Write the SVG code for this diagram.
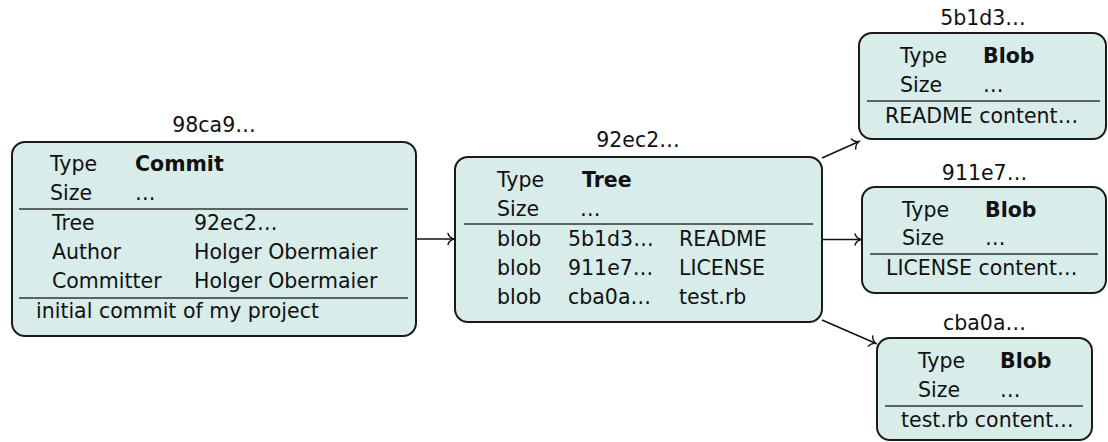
<svg xmlns="http://www.w3.org/2000/svg" width="1108" height="442" viewBox="0 0 1108 442">
<style>
.box{fill:#d8ecea;stroke:#1a1a1a;stroke-width:2}
.sep{stroke:#333;stroke-width:1.3}
text{font-family:"DejaVu Sans",sans-serif;font-size:20.5px;fill:#111}
.b{font-weight:bold}
.t{text-anchor:middle}
.conn{stroke:#111;stroke-width:1.5;fill:none;marker-end:url(#tip)}
</style>
<defs>
<marker id="tip" markerUnits="userSpaceOnUse" viewBox="-8 -7 10 14" refX="0" refY="0" markerWidth="10" markerHeight="14" orient="auto" overflow="visible">
<path d="M-6,-5.5 C-5,-2.5 -2.2,-0.6 0,0 C-2.2,0.6 -5,2.5 -6,5.5" fill="none" stroke="#111" stroke-width="1.4" stroke-linecap="round"/>
</marker>
</defs>
<g id="connectors">
<line class="conn" x1="416" y1="239" x2="454" y2="239"/>
<line class="conn" x1="822" y1="158" x2="859" y2="141.5"/>
<line class="conn" x1="822" y1="239.5" x2="861" y2="239.5"/>
<line class="conn" x1="822" y1="320" x2="876" y2="343.5"/>
</g>
<g id="commit">
<text class="t" x="214" y="132">98ca9…</text>
<rect class="box" x="12" y="142" width="404" height="194" rx="13"/>
<text x="50" y="171">Type</text><text class="b" x="135" y="171">Commit</text>
<text x="50" y="200">Size</text><text x="135" y="200">…</text>
<line class="sep" x1="19" y1="209" x2="408" y2="209"/>
<text x="52" y="230">Tree</text><text x="194" y="230">92ec2…</text>
<text x="52" y="259">Author</text><text x="194" y="259">Holger Obermaier</text>
<text x="52" y="288">Committer</text><text x="194" y="288">Holger Obermaier</text>
<line class="sep" x1="19" y1="298" x2="408" y2="298"/>
<text x="36" y="318">initial commit of my project</text>
</g>
<g id="tree">
<text class="t" x="638" y="147">92ec2…</text>
<rect class="box" x="455" y="157" width="367" height="165" rx="13"/>
<text x="497" y="187">Type</text><text class="b" x="582" y="187">Tree</text>
<text x="497" y="216">Size</text><text x="580" y="216">…</text>
<line class="sep" x1="464" y1="224" x2="813" y2="224"/>
<text x="497" y="246">blob</text><text x="568" y="246">5b1d3…</text><text x="679" y="246">README</text>
<text x="497" y="275">blob</text><text x="568" y="275">911e7…</text><text x="679" y="275">LICENSE</text>
<text x="497" y="304">blob</text><text x="568" y="304">cba0a…</text><text x="679" y="304">test.rb</text>
</g>
<g id="blob-5b1d3">
<text class="t" x="983" y="25">5b1d3…</text>
<rect class="box" x="859" y="33" width="247" height="106" rx="13"/>
<text x="900" y="63">Type</text><text class="b" x="983" y="63">Blob</text>
<text x="900" y="92">Size</text><text x="983" y="92">…</text>
<line class="sep" x1="867" y1="101" x2="1100" y2="101"/>
<text x="885" y="123">README content…</text>
</g>
<g id="blob-911e7">
<text class="t" x="984.5" y="180">911e7…</text>
<rect class="box" x="862" y="187" width="244" height="106" rx="13"/>
<text x="902" y="217">Type</text><text class="b" x="985" y="217">Blob</text>
<text x="902" y="245">Size</text><text x="985" y="245">…</text>
<line class="sep" x1="870" y1="254" x2="1098" y2="254"/>
<text x="886" y="275">LICENSE content…</text>
</g>
<g id="blob-cba0a">
<text class="t" x="984.5" y="330">cba0a…</text>
<rect class="box" x="877" y="338" width="215" height="102" rx="13"/>
<text x="918" y="368">Type</text><text class="b" x="1000" y="368">Blob</text>
<text x="918" y="397">Size</text><text x="1000" y="397">…</text>
<line class="sep" x1="885" y1="406" x2="1083" y2="406"/>
<text x="901" y="427">test.rb content…</text>
</g>
</svg>
